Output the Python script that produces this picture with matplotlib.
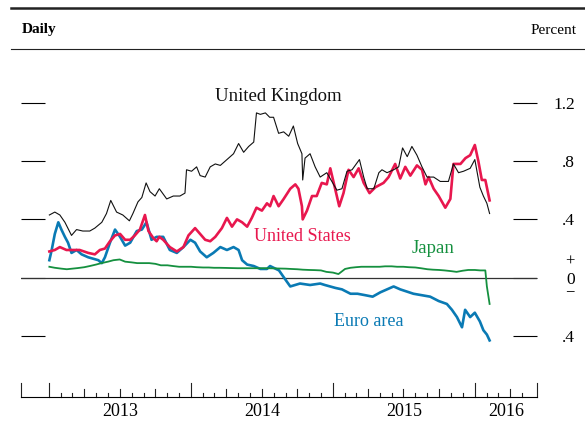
import matplotlib.pyplot as plt
import matplotlib.transforms as mtransforms
from matplotlib.lines import Line2D
import pandas as pd

plt.rcParams['font.family'] = ['Liberation Serif', 'DejaVu Serif']

# United Kingdom
uk_dates = ["2013-01-01", "2013-01-15", "2013-01-28", "2013-02-10", "2013-02-27", "2013-03-12",
            "2013-03-28", "2013-04-15", "2013-04-28", "2013-05-16", "2013-05-28", "2013-06-08",
            "2013-06-23", "2013-07-09", "2013-07-26", "2013-08-04", "2013-08-17", "2013-08-27",
            "2013-09-07", "2013-09-17", "2013-09-30", "2013-10-11", "2013-10-30", "2013-11-16",
            "2013-12-03", "2013-12-16", "2013-12-20",
            "2014-01-02", "2014-01-15", "2014-01-24", "2014-02-06", "2014-02-19", "2014-03-04",
            "2014-03-17", "2014-04-03", "2014-04-20", "2014-05-03", "2014-05-16", "2014-05-29",
            "2014-06-11", "2014-06-18", "2014-06-28", "2014-07-11", "2014-07-22", "2014-08-01",
            "2014-08-14", "2014-08-27", "2014-09-09", "2014-09-21", "2014-10-02", "2014-10-13",
            "2014-10-15", "2014-10-21", "2014-11-03", "2014-11-16", "2014-11-29", "2014-12-16",
            "2014-12-29",
            "2015-01-11", "2015-01-24", "2015-02-06", "2015-02-19", "2015-03-10", "2015-03-21",
            "2015-03-30", "2015-04-16", "2015-04-29", "2015-05-07", "2015-05-20", "2015-06-06",
            "2015-06-19", "2015-06-29", "2015-07-11", "2015-07-23", "2015-08-05", "2015-08-18",
            "2015-08-31", "2015-09-17", "2015-10-04", "2015-10-25", "2015-11-07", "2015-11-20",
            "2015-12-03", "2015-12-20",
            "2016-01-01", "2016-01-14", "2016-01-23", "2016-02-01", "2016-02-08"]
uk = [0.43, 0.45, 0.43, 0.38, 0.29, 0.33, 0.32, 0.32, 0.34, 0.38, 0.44, 0.53,
      0.45, 0.43, 0.39, 0.44, 0.52, 0.55, 0.65, 0.59, 0.56, 0.61, 0.54, 0.56,
      0.56, 0.58, 0.74,
      0.73, 0.76, 0.70, 0.69, 0.76, 0.78, 0.77, 0.81, 0.85, 0.92, 0.86, 0.90,
      0.93, 1.13, 1.12, 1.13, 1.10, 1.10, 0.99, 1.00, 0.97, 1.04, 0.92, 0.85,
      0.67, 0.82, 0.85, 0.76, 0.69, 0.72, 0.66,
      0.60, 0.61, 0.73, 0.74, 0.81, 0.69, 0.61, 0.61, 0.72, 0.74, 0.72, 0.74,
      0.76, 0.89, 0.83, 0.90, 0.84, 0.76, 0.69, 0.69, 0.66, 0.66, 0.78, 0.72,
      0.73, 0.75,
      0.81, 0.62, 0.56, 0.51, 0.44]

# United States
us_dates = ["2013-01-01", "2013-01-15", "2013-01-28", "2013-02-14", "2013-03-03", "2013-03-20",
            "2013-04-11", "2013-04-28", "2013-05-11", "2013-05-24", "2013-06-06", "2013-06-19",
            "2013-07-02", "2013-07-15", "2013-07-28", "2013-08-09", "2013-08-22", "2013-09-04",
            "2013-09-13", "2013-09-26", "2013-10-04", "2013-10-11", "2013-10-21", "2013-11-07",
            "2013-11-25", "2013-12-12", "2013-12-25",
            "2014-01-11", "2014-01-24", "2014-02-06", "2014-02-19", "2014-03-04", "2014-03-21",
            "2014-04-03", "2014-04-16", "2014-04-29", "2014-05-12", "2014-05-25", "2014-06-06",
            "2014-06-18", "2014-07-02", "2014-07-15", "2014-07-23", "2014-08-01", "2014-08-14",
            "2014-08-27", "2014-09-13", "2014-09-26", "2014-10-04", "2014-10-13", "2014-10-15",
            "2014-10-26", "2014-11-08", "2014-11-20", "2014-12-03", "2014-12-16", "2014-12-25",
            "2015-01-02", "2015-01-17", "2015-01-28", "2015-02-10", "2015-02-23", "2015-03-08",
            "2015-03-21", "2015-04-05", "2015-04-20", "2015-05-11", "2015-05-24", "2015-06-10",
            "2015-06-23", "2015-07-06", "2015-07-19", "2015-08-05", "2015-08-18", "2015-08-27",
            "2015-09-04", "2015-09-17", "2015-09-30", "2015-10-17", "2015-10-30", "2015-11-07",
            "2015-11-25", "2015-12-08", "2015-12-20",
            "2016-01-01", "2016-01-10", "2016-01-19", "2016-01-28", "2016-02-08"]
us = [0.18, 0.19, 0.21, 0.19, 0.19, 0.19, 0.17, 0.16, 0.19, 0.20, 0.25, 0.29,
      0.30, 0.26, 0.26, 0.29, 0.33, 0.43, 0.32, 0.27, 0.25, 0.28, 0.26, 0.21,
      0.18, 0.21, 0.29,
      0.34, 0.30, 0.26, 0.25, 0.28, 0.34, 0.41, 0.35, 0.40, 0.38, 0.35, 0.41,
      0.48, 0.46, 0.51, 0.49, 0.56, 0.49, 0.54, 0.61, 0.64, 0.61, 0.49, 0.40,
      0.46, 0.56, 0.56, 0.65, 0.64, 0.75,
      0.66, 0.49, 0.58, 0.74, 0.69, 0.75, 0.65, 0.58, 0.62, 0.65, 0.69, 0.78,
      0.68, 0.76, 0.70, 0.77, 0.74, 0.64, 0.69, 0.61, 0.56, 0.48, 0.54, 0.78,
      0.78, 0.82, 0.84,
      0.91, 0.80, 0.67, 0.67, 0.53]

# Euro area
eu_dates = ["2013-01-01", "2013-01-07", "2013-01-15", "2013-01-24", "2013-02-01", "2013-02-10",
            "2013-02-18", "2013-02-27", "2013-03-12", "2013-03-25", "2013-04-11", "2013-04-24",
            "2013-05-07", "2013-05-16", "2013-05-24", "2013-06-06", "2013-06-19", "2013-07-02",
            "2013-07-15", "2013-07-28", "2013-08-14", "2013-08-27", "2013-09-08", "2013-09-21",
            "2013-10-04", "2013-10-21", "2013-11-07", "2013-11-25", "2013-12-12", "2013-12-30",
            "2014-01-11", "2014-01-24", "2014-02-10", "2014-02-27", "2014-03-17", "2014-04-03",
            "2014-04-20", "2014-05-03", "2014-05-12", "2014-05-25", "2014-06-11", "2014-06-28",
            "2014-07-15", "2014-07-23", "2014-08-15", "2014-08-28", "2014-09-13", "2014-10-08",
            "2014-11-03", "2014-11-29", "2014-12-11",
            "2015-01-07", "2015-01-24", "2015-02-15", "2015-03-05", "2015-03-25", "2015-04-13",
            "2015-05-03", "2015-06-06", "2015-06-23", "2015-07-27", "2015-09-08", "2015-09-30",
            "2015-10-21", "2015-11-03", "2015-11-16", "2015-11-29", "2015-12-07", "2015-12-20",
            "2016-01-01", "2016-01-14", "2016-01-23", "2016-02-01", "2016-02-08"]
euro = [0.12, 0.19, 0.30, 0.38, 0.33, 0.28, 0.24, 0.17, 0.19, 0.16, 0.14, 0.13,
        0.12, 0.10, 0.14, 0.24, 0.33, 0.28, 0.22, 0.24, 0.32, 0.33, 0.38, 0.26,
        0.28, 0.28, 0.19, 0.17, 0.21, 0.26,
        0.24, 0.18, 0.14, 0.17, 0.21, 0.19, 0.21, 0.19, 0.12, 0.09, 0.08, 0.06,
        0.06, 0.08, 0.05, 0.00, -0.06, -0.04, -0.05, -0.04, -0.05,
        -0.07, -0.08, -0.11, -0.11, -0.12, -0.13, -0.10, -0.06, -0.08, -0.11, -0.13, -0.16,
        -0.18, -0.22, -0.27, -0.34, -0.22, -0.27,
        -0.24, -0.30, -0.36, -0.39, -0.43]

# Japan, semi-monthly
jp_dates = list(pd.date_range("2013-01-01", "2016-01-15", freq="SMS")) + \
    list(pd.to_datetime(["2016-01-28", "2016-02-01", "2016-02-08"]))
japan = [0.075, 0.068, 0.062, 0.058, 0.062, 0.066, 0.072, 0.080, 0.090, 0.100, 0.110, 0.120,
         0.125, 0.110, 0.105, 0.100, 0.100, 0.100, 0.095, 0.085, 0.085, 0.080, 0.075, 0.075,
         0.075, 0.072, 0.070, 0.070, 0.068, 0.068, 0.067, 0.066, 0.065, 0.065, 0.065, 0.065,
         0.065, 0.065, 0.064, 0.063, 0.062, 0.060, 0.058, 0.055, 0.053, 0.052, 0.050, 0.040,
         0.035, 0.025, 0.060, 0.068, 0.072, 0.075, 0.075, 0.075, 0.075, 0.078, 0.078, 0.075,
         0.075, 0.072, 0.070, 0.065, 0.058, 0.055, 0.053, 0.050, 0.045, 0.040, 0.048, 0.053,
         0.053, 0.050, 0.050, -0.06, -0.18]

yticks = [-0.4, 0.0, 0.4, 0.8, 1.2]
ytick_labels = ['.4', '0', '.4', '.8', '1.2']
years = [2013, 2014, 2015, 2016]

c_uk = '#111111'
c_us = '#e8174e'
c_jp = '#15903f'
c_eu = '#0a7ab4'

W, H = 585, 421
fig = plt.figure(figsize=(W / 100, H / 100), dpi=100)
ax = fig.add_axes([21 / W, 1 - 397 / H, 516 / W, 342 / H])

x0 = pd.Timestamp("2012-10-20")
x1 = pd.Timestamp("2016-06-09")
ax.set_xlim(x0, x1)
ax.set_ylim(-0.818, 1.527)

ax.plot(pd.to_datetime(eu_dates), euro, color=c_eu, lw=1.9, zorder=3)
ax.plot(jp_dates, japan, color=c_jp, lw=1.3, zorder=3)
ax.plot(pd.to_datetime(us_dates), us, color=c_us, lw=1.9, zorder=4)
ax.plot(pd.to_datetime(uk_dates), uk, color=c_uk, lw=0.8, zorder=5)
ax.axhline(0, color='#333333', lw=0.9, zorder=2)

for s in ['top', 'left', 'right']:
    ax.spines[s].set_visible(False)
ax.spines['bottom'].set_linewidth(0.8)

# y ticks as dashes on both sides, labels on the right only
ax.set_yticks(yticks)
ax.set_yticklabels(ytick_labels)
ax.tick_params(axis='y', which='both', direction='in', length=17.5, width=0.8,
               left=True, right=True, labelleft=False, labelright=True,
               pad=27.5, labelsize=12.5)
for lab in ax.get_yticklabels():
    lab.set_horizontalalignment('right')
ytr = mtransforms.blended_transform_factory(fig.transFigure, ax.transData)
ax.text(570 / W, 0.11, '+', transform=ytr, ha='center', va='center', fontsize=12)
ax.text(570 / W, -0.10, '\u2212', transform=ytr, ha='center', va='center', fontsize=12)

# x axis: year, quarter and month ticks drawn by hand
ax.set_xticks([])
xtr = mtransforms.blended_transform_factory(ax.transData, ax.transAxes)
hpx = 342.0
months = pd.date_range("2013-01-01", "2016-05-01", freq="MS")
for m in months:
    if m.month == 1:
        h = 14
    elif m.month in (4, 7, 10):
        h = 8
    else:
        h = 4
    ax.plot([m, m], [0, h / hpx], transform=xtr, color='#222222', lw=0.8,
            clip_on=False)
for e in (x0, x1):
    ax.plot([e, e], [0, 14 / hpx], transform=xtr, color='#222222', lw=0.8,
            clip_on=False)
for y in years:
    a = max(pd.Timestamp(f"{y}-01-01"), x0)
    b = min(pd.Timestamp(f"{y + 1}-01-01"), x1)
    ax.text(a + (b - a) / 2, -14 / hpx, str(y), transform=xtr, ha='center',
            va='center', fontsize=13)

# series labels
ax.text(pd.Timestamp("2014-08-12"), 1.24, 'United Kingdom', color=c_uk,
        ha='center', va='center', fontsize=13.5)
ax.text(pd.Timestamp("2014-10-15"), 0.285, 'United States', color=c_us,
        ha='center', va='center', fontsize=13)
ax.text(pd.Timestamp("2015-09-15"), 0.20, 'Japan', color=c_jp,
        ha='center', va='center', fontsize=13.5)
ax.text(pd.Timestamp("2015-04-04"), -0.30, 'Euro area', color=c_eu,
        ha='center', va='center', fontsize=13)

# header rules and captions
fig.add_artist(Line2D([11 / W, 1], [1 - 8 / H, 1 - 8 / H], color='#222222', lw=1.8))
fig.add_artist(Line2D([11 / W, 1], [1 - 49 / H, 1 - 49 / H], color='#222222', lw=0.8))
fig.text(22 / W, 1 - 30 / H, 'Daily', fontsize=11, fontweight='bold', va='center')
fig.text(577 / W, 1 - 30 / H, 'Percent', fontsize=11, ha='right', va='center')

fig.savefig('out.png', dpi=100)
